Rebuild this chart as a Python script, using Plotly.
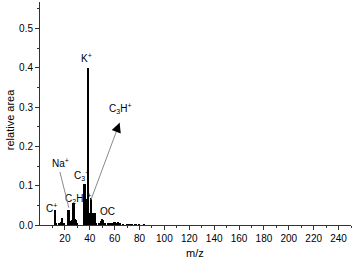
import plotly.graph_objects as go

mz = [12, 13, 16, 17, 18, 19, 23, 24, 25, 26, 27, 28, 29, 30, 36, 37, 38, 39, 40, 41, 42, 43, 44, 45,
      48, 49, 50, 51, 52, 55, 56, 57, 58, 59, 60, 62, 63, 64, 67, 70, 72, 74, 77, 80, 84]
area = [0.037, 0.003, 0.004, 0.008, 0.019, 0.004, 0.037, 0.01, 0.006, 0.012, 0.057, 0.015, 0.012, 0.004,
        0.105, 0.065, 0.06, 0.4, 0.03, 0.068, 0.02, 0.031, 0.03, 0.004,
        0.005, 0.01, 0.014, 0.012, 0.005, 0.006, 0.004, 0.005, 0.004, 0.003, 0.007, 0.006, 0.008, 0.003,
        0.002, 0.002, 0.002, 0.002, 0.002, 0.001, 0.001]

labels = ["C<sup>+</sup>", "C<sub>2</sub>H<sub>3</sub><sup>+</sup>", "C<sub>3</sub><sup>+</sup>", "K<sup>+</sup>", "OC"]
label_x = [9.5, 30.5, 33.5, 37.5, 54.5]
label_y = [0.044, 0.068, 0.126, 0.425, 0.035]

arrow_labels = ["Na<sup>+</sup>", "C<sub>3</sub>H<sup>+</sup>"]
arrow_head_x = [16, 64]
arrow_head_y = [0.135, 0.26]
arrow_tail_x = [23.5, 40.5]
arrow_tail_y = [0.04, 0.06]
arrow_label_x = [16.5, 64]
arrow_label_y = [0.158, 0.295]

FONT = "Liberation Sans, Arial"

fig = go.Figure()
fig.add_trace(go.Bar(x=mz, y=area, width=1.5, marker=dict(color="black", line=dict(width=0))))

anns = []
for t, x, y in zip(labels, label_x, label_y):
    anns.append(dict(x=x, y=y, text=t, showarrow=False, xref="x", yref="y",
                     font=dict(size=10, color="black", family=FONT)))
for t, hx, hy, tx, ty, lx, ly in zip(arrow_labels, arrow_head_x, arrow_head_y, arrow_tail_x, arrow_tail_y,
                                     arrow_label_x, arrow_label_y):
    anns.append(dict(x=hx, y=hy, ax=tx, ay=ty, xref="x", yref="y", axref="x", ayref="y",
                     showarrow=True, arrowhead=0, arrowwidth=1, arrowcolor="#8a8a8a", text=""))
    dx = hx - tx
    dy = hy - ty
    anns.append(dict(x=hx, y=hy, ax=hx - dx * 0.05, ay=hy - dy * 0.05, xref="x", yref="y",
                     axref="x", ayref="y", showarrow=True, arrowhead=2, arrowsize=1.6,
                     arrowwidth=1.2, arrowcolor="black", text=""))
    anns.append(dict(x=lx, y=ly, text=t, showarrow=False, xref="x", yref="y",
                     font=dict(size=10, color="black", family=FONT)))

# axis titles
anns.append(dict(x=0.498, y=0, xref="paper", yref="paper", yanchor="middle", yshift=-28,
                 text="m/z", showarrow=False, font=dict(size=11, color="black", family=FONT)))
anns.append(dict(x=0, y=0.47, xref="paper", yref="paper", xanchor="center", xshift=-30,
                 text="relative area", textangle=-90, showarrow=False,
                 font=dict(size=11, color="black", family=FONT)))

fig.update_layout(
    width=355, height=259, autosize=False,
    margin=dict(l=40, r=4, t=2, b=34),
    paper_bgcolor="white", plot_bgcolor="white",
    showlegend=False, bargap=0,
    annotations=anns,
    font=dict(family=FONT, size=10, color="black"),
    xaxis=dict(range=[0, 250], tickmode="array", tickvals=list(range(20, 260, 20)),
               ticks="outside", ticklen=4, tickwidth=1, tickcolor="#333", automargin=False,
               showline=True, linecolor="#333", linewidth=1, showgrid=False, zeroline=False,
               minor=dict(tickvals=list(range(10, 260, 20)), ticks="outside", ticklen=2, tickcolor="#333"),
               tickfont=dict(size=10)),
    yaxis=dict(range=[0, 0.567], tickvals=[0, 0.1, 0.2, 0.3, 0.4, 0.5], tickformat=".1f",
               ticks="outside", ticklen=4, tickwidth=1, tickcolor="#333", automargin=False,
               showline=True, linecolor="#333", linewidth=1, showgrid=False, zeroline=False,
               minor=dict(tickvals=[0.05, 0.15, 0.25, 0.35, 0.45, 0.55], ticks="outside", ticklen=2, tickcolor="#333"),
               tickfont=dict(size=10)),
)
fig.write_html(
    "out.html",
    config={"responsive": False, "displayModeBar": False},
    post_script="document.body.style.margin='0';document.body.style.overflow='hidden';",
)
